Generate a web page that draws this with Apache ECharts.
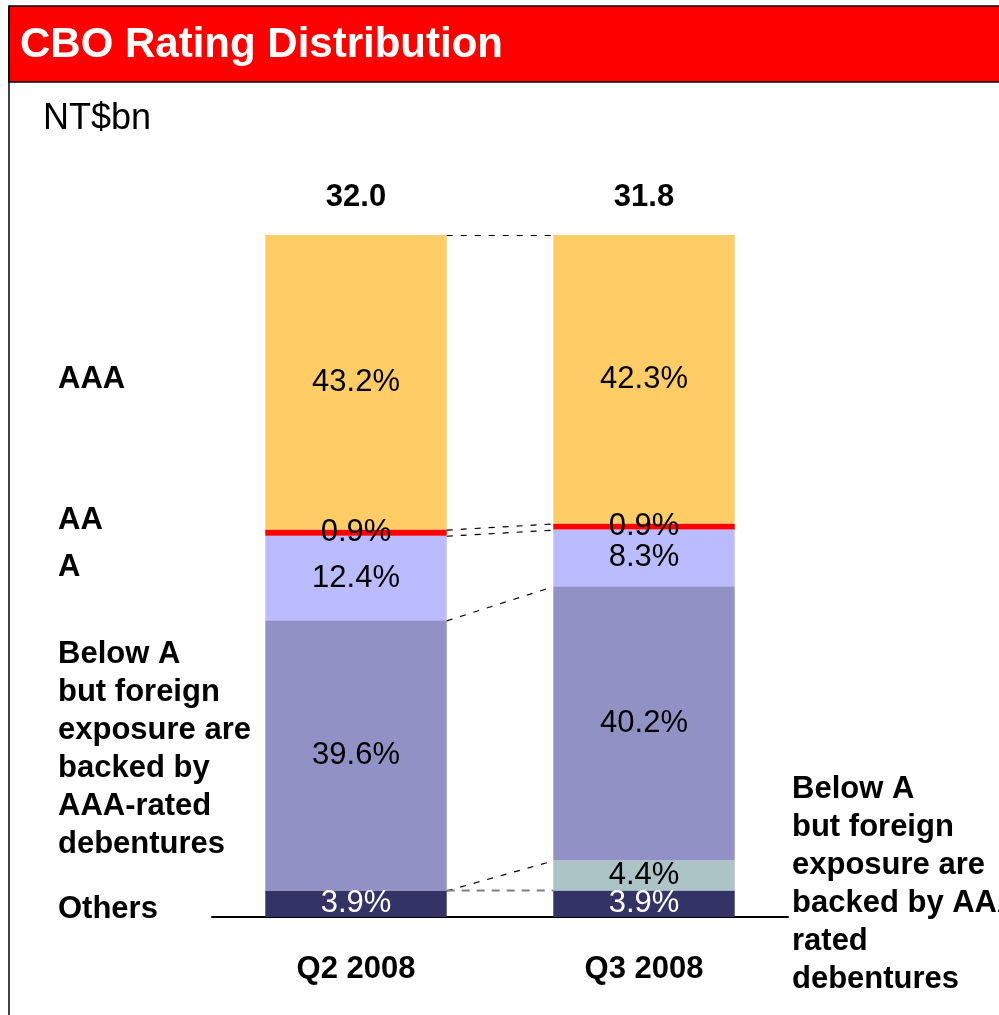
<!DOCTYPE html>
<html>
<head>
<meta charset="utf-8">
<script src="https://cdn.jsdelivr.net/npm/echarts@6/dist/echarts.min.js"></script>
<style>html,body{margin:0;padding:0;background:#fff}#c{width:999px;height:1015px}</style>
</head>
<body>
<div id="c"></div>
<script>
const categories = ['Q2 2008', 'Q3 2008'];
const totals = ['32.0', '31.8'];
const others = [3.9, 3.9];
const belowAForeignRight = [null, 4.4];
const belowA = [39.6, 40.2];
const ratingA = [12.4, 8.3];
const ratingAA = [0.9, 0.9];
const ratingAAA = [43.2, 42.3];
// connector lines: cumulative share at Q2 edge -> at Q3 edge
const connectors = [
  [100, 100, 'black'],
  [56.8, 57.7, 'black'],
  [55.9, 56.8, 'black'],
  [43.5, 48.5, 'black'],
  [3.9, 8.3, 'black'],
  [3.9, 3.9, 'grey']
];
const leftLabels = ['AAA', 'AA', 'A', 'Below A\nbut foreign\nexposure are\nbacked by\nAAA-rated\ndebentures', 'Others'];
const rightLabel = 'Below A\nbut foreign\nexposure are\nbacked by AAA-\nrated\ndebentures';

const FONT = 'Liberation Sans, Arial, sans-serif';
const BAR_W = 0.63;
const pct = p => (p.value == null ? '' : p.value.toFixed(1) + '%');

function seg(name, data, color, labelColor) {
  return {
    name, type: 'bar', stack: 'all', data, barWidth: (BAR_W * 100) + '%',
    itemStyle: { color },
    label: { show: true, position: 'inside', formatter: pct, color: labelColor,
      fontFamily: FONT, fontSize: 31 },
    emphasis: { disabled: true }
  };
}

const chart = echarts.init(document.getElementById('c'));
const series = [
  seg('Others', others, '#333366', '#ffffff'),
  seg('Below A (right)', belowAForeignRight, '#ADC4C6', '#000000'),
  seg('Below A', belowA, '#9191C6', '#000000'),
  seg('A', ratingA, '#BBBBFF', '#000000'),
  seg('AA', ratingAA, '#FF0000', '#000000'),
  seg('AAA', ratingAAA, '#FFCC66', '#000000'),
  {
    name: 'Total', type: 'bar', stack: 'all', data: categories.map(() => 0),
    barWidth: (BAR_W * 100) + '%', itemStyle: { color: 'transparent' },
    label: { show: true, position: 'top', distance: 22,
      formatter: p => totals[p.dataIndex], color: '#000', fontWeight: 'bold',
      fontFamily: FONT, fontSize: 31 },
    emphasis: { disabled: true }
  },
  {
    type: 'custom', z: 5, silent: true,
    data: connectors.map(c => [0, c[0], c[1]]),
    encode: { x: 0, y: 1 },
    renderItem: function (params, api) {
      const c = connectors[params.dataIndex];
      const p1 = api.coord([0, api.value(1)]);
      const p2 = api.coord([1, api.value(2)]);
      const half = api.size([1, 0])[0] * BAR_W / 2;
      const grey = c[2] === 'grey';
      const off = grey ? 0 : 0.5;
      return {
        type: 'line',
        shape: { x1: p1[0] + half, y1: p1[1] + off, x2: p2[0] - half, y2: p2[1] + off },
        style: { stroke: grey ? '#808080' : '#000', lineWidth: grey ? 2 : 1.2,
          lineDash: grey ? [8, 7] : [6, 8], fill: null }
      };
    }
  }
];

const labelYs = [379, 520, 567, 654, 909];
const graphics = [
  { type: 'rect', shape: { x: 9, y: 6, width: 1000, height: 76 },
    style: { fill: '#FF0000', stroke: '#000', lineWidth: 1.5 }, z: 1 },
  { type: 'line', shape: { x1: 9, y1: 6, x2: 9, y2: 1015 },
    style: { stroke: '#000', lineWidth: 1.5 }, z: 1 },
  { type: 'text', x: 20, y: 45, z: 2,
    style: { text: 'CBO Rating Distribution', fill: '#fff', font: 'bold 42px ' + FONT,
      textVerticalAlign: 'middle' } },
  { type: 'text', x: 43, y: 119, z: 2,
    style: { text: 'NT$bn', fill: '#000', font: '36px ' + FONT, textVerticalAlign: 'middle' } },
  { type: 'text', x: 792, y: 770, z: 2,
    style: { text: rightLabel, fill: '#000', font: 'bold 31px ' + FONT, lineHeight: 38,
      textVerticalAlign: 'top' } }
];
leftLabels.forEach((t, i) => {
  graphics.push({ type: 'text', x: 58, y: labelYs[i] - 19, z: 2,
    style: { text: t, fill: '#000', font: 'bold 31px ' + FONT, lineHeight: 38,
      textVerticalAlign: 'top' } });
});

chart.setOption({
  animation: false,
  backgroundColor: '#fff',
  grid: { left: 212, right: 211, top: 235, bottom: 98 },
  xAxis: {
    type: 'category', data: categories,
    axisLine: { show: true, lineStyle: { color: '#000', width: 2 } },
    axisTick: { show: false },
    axisLabel: { color: '#000', fontWeight: 'bold', fontSize: 31, fontFamily: FONT, margin: 37 }
  },
  yAxis: { type: 'value', min: 0, max: 100, show: false, splitLine: { show: false } },
  series,
  graphic: graphics
});
</script>
</body>
</html>
